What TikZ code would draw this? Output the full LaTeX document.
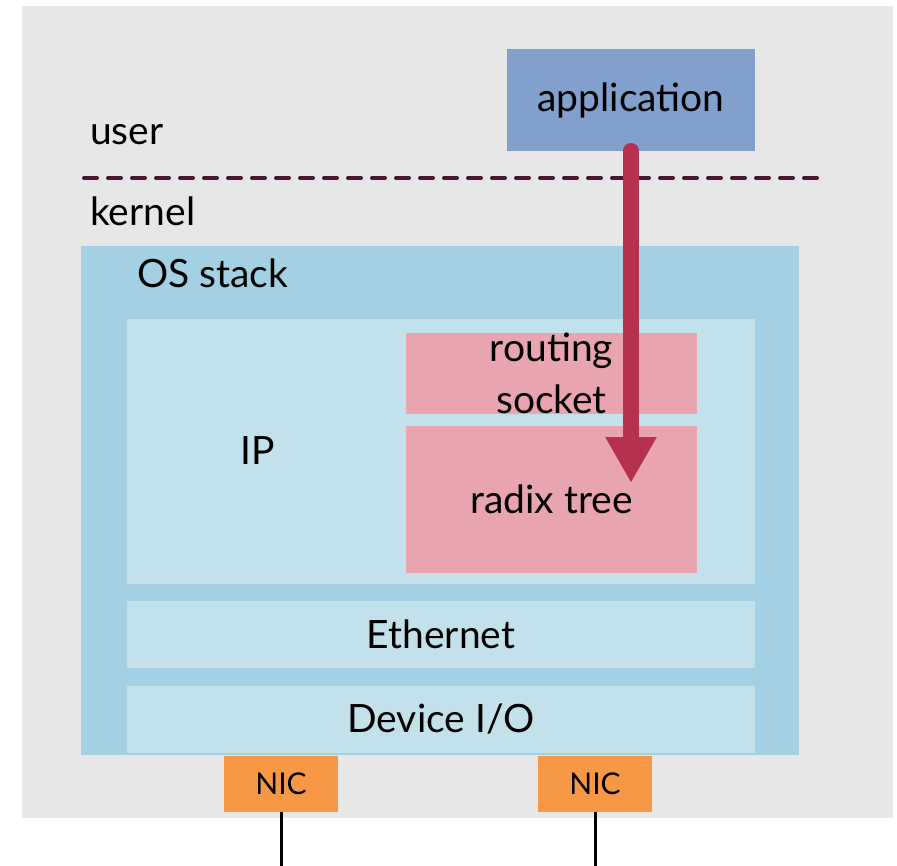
\documentclass[tikz,border=0pt]{standalone}
\usepackage{fontspec}
\setmainfont{Lato}
\usetikzlibrary{arrows.meta,positioning}
\definecolor{bggray}{RGB}{231,231,231}
\definecolor{appblue}{RGB}{130,160,204}
\definecolor{osblue}{RGB}{163,208,227}
\definecolor{layblue}{RGB}{195,225,235}
\definecolor{rtpink}{RGB}{232,165,176}
\definecolor{nicorange}{RGB}{247,152,70}
\definecolor{arrred}{RGB}{181,49,77}
\definecolor{kdash}{RGB}{75,22,53}
\tikzset{
  blk/.style={anchor=north west, inner sep=0pt, outer sep=0pt, align=center,
              font=\fontsize{39}{52}\selectfont},
  bgbox/.style={blk, fill=bggray},
  appbox/.style={blk, fill=appblue},
  osbox/.style={blk, fill=osblue},
  layer/.style={blk, fill=layblue},
  rtbox/.style={blk, fill=rtpink},
  nicbox/.style={blk, fill=nicorange, font=\fontsize{30}{34}\selectfont},
  lbl/.style={font=\fontsize{39}{52}\selectfont, inner sep=0pt},
  kline/.style={kdash, line width=4pt, line cap=round, dash pattern=on 13pt off 11pt},
  flowarr/.style={-{Triangle[width=48pt,length=46pt]}, arrred, line width=16pt, line cap=round},
  wire/.style={black, line width=3pt},
}
\begin{document}
\begin{tikzpicture}[x=1pt, y=-1pt]
  \useasboundingbox[fill=white] (0,0) rectangle (897,866);
  % machine
  \node[bgbox, minimum width=871pt, minimum height=812pt] (bg) at (22,6) {};
  \node[appbox, minimum width=248pt, minimum height=102pt] (app) at (507,49) {application};
  \node[lbl, anchor=west] (user) at (90,135) {user};
  \node[lbl, anchor=west] (kern) at (90,211) {kernel};
  \coordinate (dl) at (84,178);
  \coordinate (dr) at (818,178);
  \draw[kline] (dl) -- (dr);
  % OS stack
  \node[osbox, minimum width=718pt, minimum height=509pt] (os) at (81,246) {};
  \node[lbl, anchor=west] (oslbl) at (137,273) {OS stack};
  \node[layer, minimum width=628pt, minimum height=265pt] (ip) at (127,319) {};
  \node[lbl] (iplbl) at (258,451) {IP};
  \node[rtbox, minimum width=291pt, minimum height=80pt] (rsock) at (406,333) {routing\\socket};
  \node[rtbox, minimum width=291pt, minimum height=147pt] (radix) at (406,426) {radix tree};
  \node[layer, minimum width=628pt, minimum height=67pt] (eth) at (127,601) {Ethernet};
  \node[layer, minimum width=628pt, minimum height=67pt] (dev) at (127,686) {Device I/O};
  % NICs
  \node[nicbox, minimum width=114pt, minimum height=56pt] (nica) at (224,756) {NIC};
  \node[nicbox, minimum width=114pt, minimum height=56pt] (nicb) at (538,756) {NIC};
  \coordinate (wa) at (281,866);
  \coordinate (wb) at (595,866);
  \draw[wire] (nica.south) -- (wa);
  \draw[wire] (nicb.south) -- (wb);
  % lookup path
  \coordinate (arrtop) at (631,151);
  \coordinate (arrtip) at (631,483);
  \draw[flowarr] (arrtop) -- (arrtip);
\end{tikzpicture}
\end{document}
